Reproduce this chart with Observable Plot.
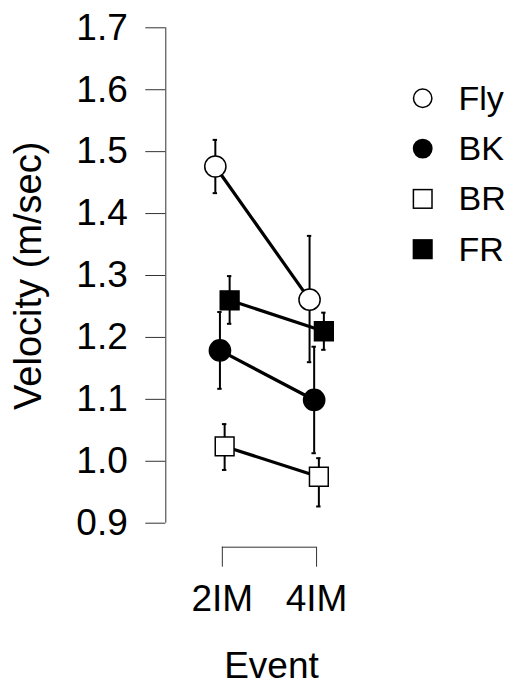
<!DOCTYPE html>
<html>
<head>
<meta charset="utf-8">
<script src="https://cdn.jsdelivr.net/npm/d3@7"></script>
<script src="https://cdn.jsdelivr.net/npm/@observablehq/plot@0.6"></script>
<style>
  body { margin: 0; background: #fff; }
  #chart { position: relative; width: 515px; height: 687px; font-family: "Liberation Sans", Arial, Helvetica, sans-serif; }
  #legend { position: absolute; left: 400px; top: 70px; }
</style>
</head>
<body>
<div id="chart"></div>
<script>
// ---- data ----
const categories = ["2IM", "4IM"];
const seriesNames = ["Fly", "BK", "BR", "FR"];
const yTicks = [0.9, 1.0, 1.1, 1.2, 1.3, 1.4, 1.5, 1.6, 1.7];

const flyMean = [1.476, 1.261];
const flyLow  = [1.433, 1.160];
const flyHigh = [1.519, 1.364];

const bkMean = [1.179, 1.099];
const bkLow  = [1.117, 1.013];
const bkHigh = [1.241, 1.185];

const brMean = [1.024, 0.975];
const brLow  = [0.986, 0.927];
const brHigh = [1.060, 1.005];

const frMean = [1.260, 1.210];
const frLow  = [1.222, 1.180];
const frHigh = [1.299, 1.240];

// ---- styles ----
const styleBySeries = {
  Fly: {symbol: "circle", fill: "white", dodge: -7},
  BK:  {symbol: "circle", fill: "black", dodge: -2.4},
  BR:  {symbol: "square", fill: "white", dodge: 2.3},
  FR:  {symbol: "square", fill: "black", dodge: 7.3}
};

const seriesData = {
  Fly: [flyMean, flyLow, flyHigh],
  BK: [bkMean, bkLow, bkHigh],
  BR: [brMean, brLow, brHigh],
  FR: [frMean, frLow, frHigh]
};

const rowsFor = (s) => categories.map((c, i) => ({
  series: s, x: i + 1, cat: c,
  mean: seriesData[s][0][i], lo: seriesData[s][1][i], hi: seriesData[s][2][i]
}));

const xPositions = categories.map((c, i) => i + 1);
const xDomain = [0.4, 2.6];
const yDomain = [0.9, 1.7];
const FONT = 37;

const errMarks = [], lineMarks = [], dotMarks = [];
for (const s of seriesNames) {
  const rows = rowsFor(s);
  const st = styleBySeries[s];
  errMarks.push(Plot.ruleX(rows, {x: "x", y1: "lo", y2: "hi", stroke: "black", strokeWidth: 2, dx: st.dodge}));
  errMarks.push(Plot.ruleY(rows, {y: "lo", x1: "x", x2: "x", insetLeft: -2.2, insetRight: -2.2, stroke: "black", strokeWidth: 2, dx: st.dodge}));
  errMarks.push(Plot.ruleY(rows, {y: "hi", x1: "x", x2: "x", insetLeft: -2.2, insetRight: -2.2, stroke: "black", strokeWidth: 2, dx: st.dodge}));
  lineMarks.push(Plot.line(rows, {x: "x", y: "mean", stroke: "black", strokeWidth: 3.2, dx: st.dodge}));
  dotMarks.push(Plot.dot(rows, {x: "x", y: "mean", r: 10.6, symbol: st.symbol, fill: st.fill, stroke: "black", strokeWidth: 1.5, dx: st.dodge}));
}

const chart = Plot.plot({
  width: 515,
  height: 687,
  marginTop: 27.3,
  marginBottom: 140.3,
  marginLeft: 165.3,
  marginRight: 142.4,
  style: {fontFamily: '"Liberation Sans", Arial, Helvetica, sans-serif', fontSize: FONT + "px", background: "white"},
  x: {type: "linear", domain: xDomain},
  y: {domain: yDomain, insetBottom: 24},
  marks: [
    Plot.axisY({ticks: yTicks, tickSize: 20, tickPadding: 18, tickFormat: d3.format(".1f"), stroke: "#333", label: null, fontSize: FONT}),
    Plot.ruleX([{}], {x: () => xDomain[0], y1: () => yDomain[0], y2: () => yDomain[1], stroke: "#333"}),
    Plot.axisX({ticks: xPositions, tickSize: 20, tickPadding: 18, tickFormat: (d) => categories[d - 1], stroke: "#333", label: null, fontSize: FONT}),
    Plot.ruleY([{}], {y: () => yDomain[0], x1: () => xPositions[0], x2: () => xPositions[xPositions.length - 1], dy: 24, stroke: "#333"}),
    Plot.text(["Event"], {frameAnchor: "bottom", lineAnchor: "top", textAnchor: "middle", dy: 104.5, dx: 2, fontSize: FONT, fill: "black"}),
    Plot.text(["Velocity (m/sec)"], {frameAnchor: "left", rotate: -90, lineAnchor: "top", textAnchor: "middle", dx: -152, dy: -11.7, fontSize: 38, fill: "black"}),
    ...errMarks,
    ...lineMarks,
    ...dotMarks
  ]
});

const container = document.getElementById("chart");
container.appendChild(chart);

// ---- legend ----
const legendItemGap = 50.3;
const legend = d3.select(container).append("svg")
  .attr("id", "legend")
  .attr("width", 115)
  .attr("height", 210);
seriesNames.forEach((s, i) => {
  const st = styleBySeries[s];
  const cy = 28.3 + i * legendItemGap;
  const g = legend.append("g");
  if (st.symbol === "circle") {
    g.append("circle").attr("cx", 22.7).attr("cy", cy).attr("r", 9.2)
      .attr("fill", st.fill).attr("stroke", "black").attr("stroke-width", 1.5);
  } else {
    g.append("rect").attr("x", 22.7 - 9.3).attr("y", cy - 9.3).attr("width", 18.6).attr("height", 18.6)
      .attr("fill", st.fill).attr("stroke", "black").attr("stroke-width", 1.5);
  }
  g.append("text").attr("x", 58.5).attr("y", cy + 11.5)
    .attr("font-family", '"Liberation Sans", Arial, Helvetica, sans-serif')
    .attr("font-size", 34).attr("fill", "black").text(s);
});
</script>
</body>
</html>
